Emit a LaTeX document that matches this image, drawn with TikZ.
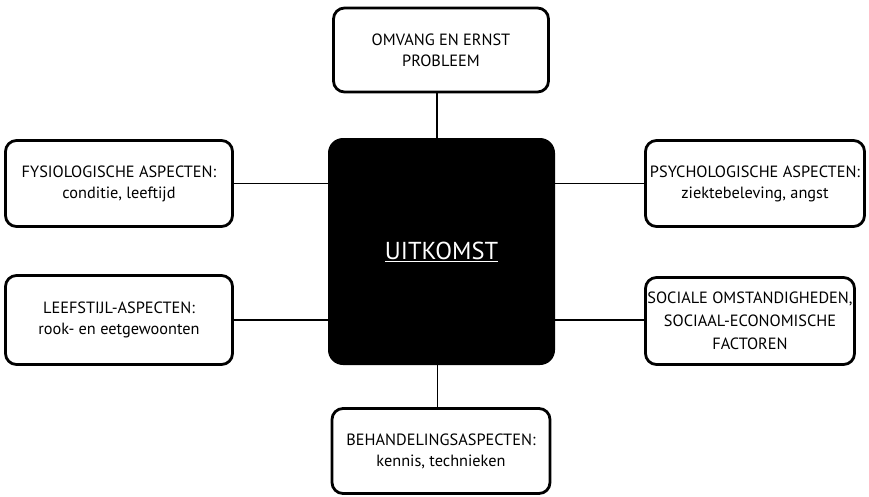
\documentclass[tikz,border=0pt]{standalone}
\usepackage{fontspec}
\setmainfont{PT Sans}
\begin{document}
\begin{tikzpicture}[x=1pt,y=-1pt,
  factor/.style={draw=black, line width=2.8pt, rounded corners=11pt, fill=white,
    align=center, inner sep=0pt, font=\fontsize{16.3}{21}\selectfont},
  core/.style={fill=black, rounded corners=15pt, inner sep=0pt,
    minimum width=227pt, minimum height=227pt, text=white,
    font=\fontsize{24.5}{28}\selectfont},
  link/.style={line width=1.5pt}]
\useasboundingbox (0,0) rectangle (869,496);

\node[core] (uit) at (441.5,251.5) {\underline{UITKOMST}};

\node[factor, minimum width=215pt, minimum height=84pt] (omv) at (441,50)
  {OMVANG EN ERNST\\PROBLEEM};
\node[factor, minimum width=218pt, minimum height=85pt] (beh) at (441,451)
  {BEHANDELINGSASPECTEN:\\kennis, technieken};
\node[factor, minimum width=227pt, minimum height=86pt] (fys) at (119,183.5)
  {FYSIOLOGISCHE ASPECTEN:\\conditie, leeftijd};
\node[factor, minimum width=227pt, minimum height=89pt] (lee) at (119,320)
  {LEEFSTIJL-ASPECTEN:\\rook- en eetgewoonten};
\node[factor, minimum width=219pt, minimum height=86pt] (psy) at (755,183.5)
  {PSYCHOLOGISCHE ASPECTEN:\\ziektebeleving, angst};
\node[factor, minimum width=209pt, minimum height=87pt,
  font=\fontsize{16.3}{23}\selectfont] (soc) at (750,321)
  {SOCIALE OMSTANDIGHEDEN,\\SOCIAAL-ECONOMISCHE\\FACTOREN};

% vertical links sit slightly left of the box centres
\draw[link] ([xshift=-4pt]omv.south) -- ([xshift=-4pt]omv.south |- uit.north);
\draw[link] ([xshift=-4pt]uit.south) -- ([xshift=-4pt]uit.south |- beh.north);
\draw[link] (fys.east) -- (fys.east -| uit.west);
\draw[link] (lee.east) -- (lee.east -| uit.west);
\draw[link] (psy.west) -- (psy.west -| uit.east);
\draw[link] (soc.west |- lee.east) -- (lee.east -| uit.east);
\end{tikzpicture}
\end{document}
